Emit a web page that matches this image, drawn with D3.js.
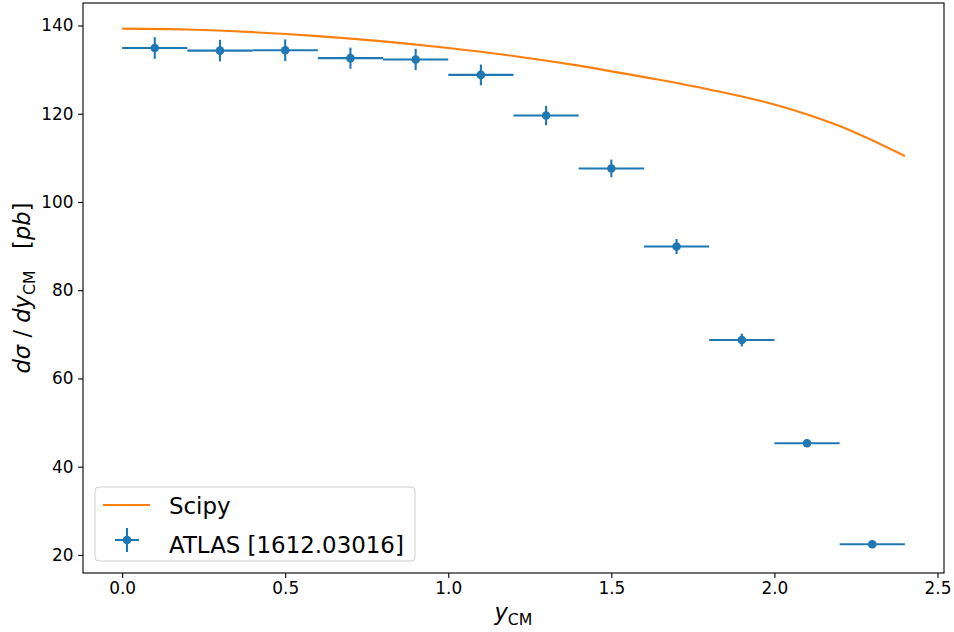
<!DOCTYPE html>
<html>
<head>
<meta charset="utf-8">
<script src="https://cdn.jsdelivr.net/npm/d3@7"></script>
<style>
  body { margin: 0; background: #fff; }
  text { font-family: "DejaVu Sans", sans-serif; white-space: pre; }
</style>
</head>
<body>
<div id="viz"></div>
<script>
// ATLAS data points (bin centres, half widths, values, errors)
var binCentre = [0.1, 0.3, 0.5, 0.7, 0.9, 1.1, 1.3, 1.5, 1.7, 1.9, 2.1, 2.3];
var binHalf   = [0.1, 0.1, 0.1, 0.1, 0.1, 0.1, 0.1, 0.1, 0.1, 0.1, 0.1, 0.1];
var atlasVal  = [134.9, 134.3, 134.4, 132.6, 132.3, 128.8, 119.6, 107.6, 89.9, 68.7, 45.3, 22.4];
var atlasErr  = [2.45, 2.45, 2.45, 2.4, 2.4, 2.35, 2.2, 2.0, 1.7, 1.45, 0.8, 0.6];

// Scipy curve
var scipyX = [0.0, 0.2, 0.4, 0.6, 0.8, 1.0, 1.2, 1.4, 1.6, 1.8, 2.0, 2.2, 2.4];
var scipyY = [139.3, 139.1, 138.5, 137.6, 136.4, 134.9, 133.1, 130.9, 128.3, 125.5, 122.1, 117.2, 110.4];

var xTicks = [0.0, 0.5, 1.0, 1.5, 2.0, 2.5];
var yTicks = [20, 40, 60, 80, 100, 120, 140];

var width = 954,
    height = 632;

var margin = {left: 83, top: 3, right: 10, bottom: 59};

var blue = "#1f77b4",
    orange = "#ff7f0e";

var svg = d3.select("#viz")
    .append("svg")
    .attr("width", width)
    .attr("height", height);

var x = d3.scaleLinear()
    .domain([-0.12, 2.52])
    .range([margin.left, width - margin.right]);

var y = d3.scaleLinear()
    .domain([15.9, 145.1])
    .range([height - margin.bottom, margin.top]);

// ****************** Axes ***************************
var xAxis = svg.append("g")
    .attr("transform", "translate(0," + (height - margin.bottom) + ")")
    .call(d3.axisBottom(x).tickValues(xTicks).tickFormat(d3.format(".1f")).tickSize(4.9).tickPadding(4.5));

var yAxis = svg.append("g")
    .attr("transform", "translate(" + margin.left + ",0)")
    .call(d3.axisLeft(y).tickValues(yTicks).tickSize(4.9).tickPadding(4.5));

[xAxis, yAxis].forEach(function(a) {
  a.selectAll("text")
      .style("font-family", "DejaVu Sans")
      .style("font-size", "16.9px")
      .attr("fill", "#000");
  a.selectAll("line").attr("stroke", "#000").attr("stroke-width", 1.1);
  a.select(".domain").remove();
});

svg.append("rect")
    .attr("x", margin.left)
    .attr("y", margin.top)
    .attr("width", width - margin.left - margin.right)
    .attr("height", height - margin.top - margin.bottom)
    .attr("fill", "none")
    .attr("stroke", "#000")
    .attr("stroke-width", 1.1);

// ****************** Scipy line ***************************
var line = d3.line()
    .x(function(d) { return x(d[0]); })
    .y(function(d) { return y(d[1]); })
    .curve(d3.curveMonotoneX);

svg.append("path")
    .datum(d3.zip(scipyX, scipyY))
    .attr("d", line)
    .attr("fill", "none")
    .attr("stroke", orange)
    .attr("stroke-width", 2.1);

// ****************** Error bars ***************************
var pts = binCentre.map(function(c, i) {
  return {x: c, dx: binHalf[i], y: atlasVal[i], dy: atlasErr[i]};
});

var eb = svg.append("g").selectAll("g")
    .data(pts)
    .enter().append("g");

eb.append("line")
    .attr("x1", function(d) { return x(d.x - d.dx); })
    .attr("x2", function(d) { return x(d.x + d.dx); })
    .attr("y1", function(d) { return y(d.y); })
    .attr("y2", function(d) { return y(d.y); })
    .attr("stroke", blue)
    .attr("stroke-width", 2.1);

eb.append("line")
    .attr("x1", function(d) { return x(d.x); })
    .attr("x2", function(d) { return x(d.x); })
    .attr("y1", function(d) { return y(d.y - d.dy); })
    .attr("y2", function(d) { return y(d.y + d.dy); })
    .attr("stroke", blue)
    .attr("stroke-width", 2.1);

eb.append("circle")
    .attr("cx", function(d) { return x(d.x); })
    .attr("cy", function(d) { return y(d.y); })
    .attr("r", 4.3)
    .attr("fill", blue);

// ****************** Axis labels ***************************
var xl = svg.append("text")
    .attr("x", (margin.left + width - margin.right) / 2)
    .attr("y", 620)
    .attr("text-anchor", "middle")
    .style("font-size", "22.6px");
xl.append("tspan").style("font-style", "italic").text("y");
xl.append("tspan").attr("dy", 5).style("font-size", "15.8px").text("CM");

var yl = svg.append("text")
    .attr("transform", "translate(30," + ((margin.top + height - margin.bottom) / 2) + ") rotate(-90)")
    .attr("text-anchor", "middle")
    .style("font-size", "22.6px");
yl.append("tspan").style("font-style", "italic").text("dσ");
yl.append("tspan").text(" / ");
yl.append("tspan").style("font-style", "italic").text("dy");
yl.append("tspan").attr("dy", 5).style("font-size", "15.8px").text("CM");
yl.append("tspan").attr("dy", -5).text("   [");
yl.append("tspan").style("font-style", "italic").text("pb");
yl.append("tspan").text("]");

// ****************** Legend ***************************
var lg = svg.append("g");

lg.append("rect")
    .attr("x", 95)
    .attr("y", 487)
    .attr("width", 320)
    .attr("height", 74)
    .attr("rx", 4)
    .attr("fill", "#fff")
    .attr("fill-opacity", 0.8)
    .attr("stroke", "#d0d0d0")
    .attr("stroke-width", 1);

lg.append("line")
    .attr("x1", 103).attr("x2", 150)
    .attr("y1", 505).attr("y2", 505)
    .attr("stroke", orange)
    .attr("stroke-width", 2.1);

lg.append("line")
    .attr("x1", 115).attr("x2", 139)
    .attr("y1", 540).attr("y2", 540)
    .attr("stroke", blue)
    .attr("stroke-width", 2.1);
lg.append("line")
    .attr("x1", 127).attr("x2", 127)
    .attr("y1", 528).attr("y2", 552)
    .attr("stroke", blue)
    .attr("stroke-width", 2.1);
lg.append("circle")
    .attr("cx", 127).attr("cy", 540)
    .attr("r", 4.3)
    .attr("fill", blue);

lg.selectAll("text.leg")
    .data(["Scipy", "ATLAS [1612.03016]"])
    .enter().append("text")
      .attr("class", "leg")
      .attr("x", 169)
      .attr("y", function(d, i) { return 514 + i * 39; })
      .style("font-size", "22.9px")
      .text(function(d) { return d; });
</script>
</body>
</html>
